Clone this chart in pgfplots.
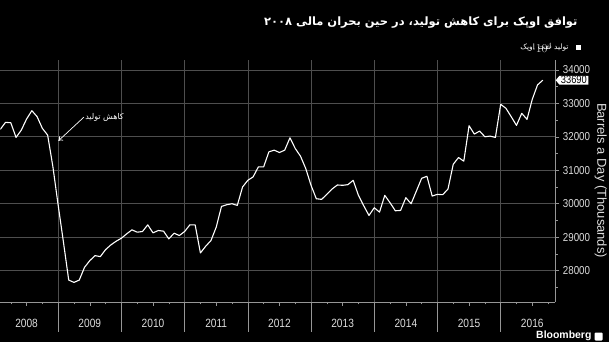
\documentclass[border=0pt]{standalone}
\usepackage{pgfplots}
\pgfplotsset{compat=1.18}
\usepackage{pgfplotstable}
\usepackage{fontspec}
\setmainfont{Liberation Sans}
\newfontfamily\tickfont[FakeStretch=0.85]{Liberation Sans}
\newfontfamily\arabicfont[Script=Arabic]{DejaVu Sans}
\usetikzlibrary{arrows.meta,shapes.symbols}
\TeXXeTstate=1
\definecolor{gridc}{RGB}{78,78,78}
\definecolor{axisc}{RGB}{150,150,150}
\definecolor{labc}{RGB}{220,220,220}

\pgfplotstableread{
m v
1 32220
2 32430
3 32420
4 31980
5 32200
6 32530
7 32780
8 32600
9 32250
10 32050
11 31100
12 29950
13 28850
14 27720
15 27650
16 27720
17 28100
18 28300
19 28450
20 28420
21 28630
22 28770
23 28880
24 28970
25 29100
26 29220
27 29150
28 29170
29 29370
30 29130
31 29200
32 29180
33 28950
34 29120
35 29050
36 29170
37 29370
38 29370
39 28530
40 28730
41 28900
42 29300
43 29920
44 29970
45 30000
46 29950
47 30500
48 30700
49 30800
50 31100
51 31100
52 31550
53 31600
54 31530
55 31600
56 31970
57 31650
58 31420
59 31050
60 30550
61 30150
62 30130
63 30280
64 30440
65 30560
66 30550
67 30570
68 30700
69 30250
70 29940
71 29650
72 29880
73 29750
74 30250
75 30030
76 29790
77 29800
78 30180
79 30000
80 30380
81 30760
82 30820
83 30230
84 30280
85 30270
86 30440
87 31180
88 31380
89 31270
90 32330
91 32080
92 32170
93 32000
94 32020
95 31980
96 32970
97 32850
98 32600
99 32340
100 32700
101 32520
102 33120
103 33550
104 33690
}\opec

\begin{document}
\begin{tikzpicture}
\fill[black] (0pt,0pt) rectangle (610pt,343pt);
\begin{axis}[
  at={(0pt,40.3pt)}, anchor=south west,
  scale only axis, width=556.7pt, height=242.7pt,
  xmin=1.02, xmax=106.4, ymin=27070, ymax=34298,
  axis x line*=bottom, axis y line*=right,
  axis line style={-, draw=axisc, line width=0.6pt},
  clip mode=individual,
  xtick={6,18,30,42,54,66,78,90,102},
  xticklabels={2008,2009,2010,2011,2012,2013,2014,2015,2016},
  minor xtick={3,9,15,21,27,33,39,45,51,57,63,69,75,81,87,93,99,105},
  extra x ticks={12,24,36,48,60,72,84,96},
  extra x tick labels={},
  extra x tick style={xmajorgrids=true, major tick length=30pt, tick align=outside},
  ytick={28000,29000,30000,31000,32000,33000,34000},
  yticklabels={28000,29000,30000,31000,32000,33000,34000},
  minor ytick={27500,28500,29500,30500,31500,32500,33500},
  ymajorgrids,
  major grid style={draw=gridc, line width=0.6pt},
  tick style={draw=axisc, line width=0.5pt},
  major tick length=4pt, minor tick length=2.5pt,
  tick align=outside,
  x tick label style={font=\tickfont\fontsize{12}{12}\selectfont, text=labc, yshift=-10pt},
  y tick label style={font=\tickfont\fontsize{11.5}{11.5}\selectfont, text=labc, inner ysep=1pt},
  ylabel={Barrels a Day (Thousands)},
  ylabel style={at={(axis description cs:1.0814,0.5014)}, anchor=center, rotate=180,
                font=\fontsize{13}{13}\selectfont, text=labc},
]
\addplot[white, line width=1.1pt, line join=round] table[x=m, y=v] {\opec};

\draw[white, line width=0.7pt, -{To[length=4pt,width=6pt]}] (axis cs:16.9,32590) -- (axis cs:12.05,31880);
\node[text=white, font=\arabicfont\fontsize{8}{9}\selectfont, anchor=center] at (axis cs:20.8,32570) {\beginR کاهش تولید\endR};

\node[signal, signal to=west, signal pointer angle=100, fill=white, text=black, inner xsep=1.5pt, inner ysep=0.5pt,
      font=\tickfont\fontsize{11}{11}\selectfont, anchor=west] at (axis cs:106.4,33690) {33690};
\end{axis}

% legend
\fill[white] (577pt,292.5pt) rectangle (582.5pt,298pt);
\node[anchor=east, text=white, font=\arabicfont\fontsize{7.5}{9}\selectfont, inner sep=0pt] at (570pt,295.5pt) {\beginR تولید\hspace{3pt}نفت\hspace{3pt}اوپک\endR};

\node[anchor=east, text=white, font=\arabicfont\bfseries\fontsize{11.5}{14}\selectfont, inner sep=0pt] at (579pt,320pt)
  {\beginR توافق اوپک برای کاهش تولید، در حین بحران مالی \beginL۲۰۰۸\endL\endR};

\node[anchor=south east, text=white, font=\bfseries\fontsize{10.5}{11}\selectfont, inner sep=0pt] at (593pt,1.5pt) {Bloomberg};
\fill[white, rounded corners=1pt] (596pt,1.5pt) rectangle (604pt,9.5pt);
\end{tikzpicture}
\end{document}
